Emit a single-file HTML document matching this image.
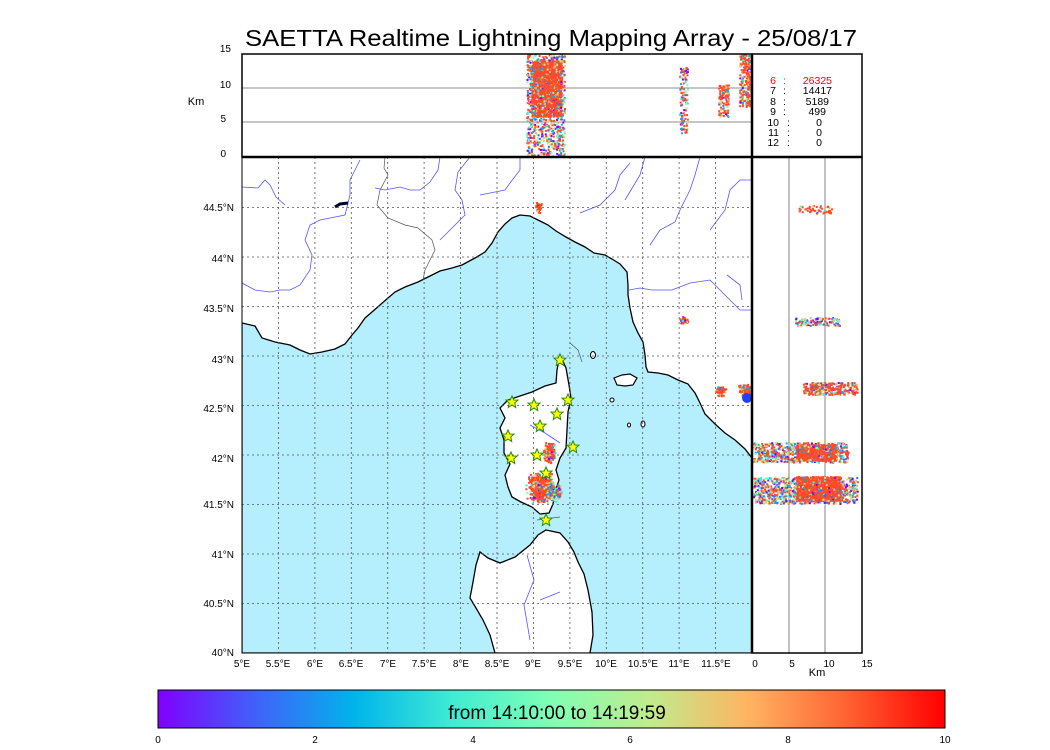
<!DOCTYPE html>
<html><head><meta charset="utf-8"><style>
html,body{margin:0;padding:0;background:#fff;}
svg{display:block;font-family:"Liberation Sans","DejaVu Sans",sans-serif;}
</style></head><body>
<svg id="s" width="1050" height="750" viewBox="0 0 1050 750" xmlns="http://www.w3.org/2000/svg">
<defs>
<linearGradient id="cb" x1="0" x2="1" y1="0" y2="0">
<stop offset="0" stop-color="#8000ff"/>
<stop offset="0.125" stop-color="#4062fa"/>
<stop offset="0.25" stop-color="#00b4eb"/>
<stop offset="0.375" stop-color="#40ecd4"/>
<stop offset="0.5" stop-color="#80ffb4"/>
<stop offset="0.625" stop-color="#c0eb8d"/>
<stop offset="0.75" stop-color="#ffb462"/>
<stop offset="0.875" stop-color="#ff6232"/>
<stop offset="1" stop-color="#ff0000"/>
</linearGradient>
<clipPath id="mapc"><rect x="242" y="157" width="510" height="496"/></clipPath>
<clipPath id="topc"><rect x="242" y="54" width="510" height="103"/></clipPath>
<clipPath id="rc"><rect x="752" y="157" width="110" height="496"/></clipPath>
<g id="star"><polygon points="0,-6 1.8,-2 6,-1.9 2.8,1 3.7,5.5 0,3 -3.7,5.5 -2.8,1 -6,-1.9 -1.8,-2" fill="#ffff00" stroke="#2a8a00" stroke-width="1"/></g>
</defs>
<text x="551" y="46" font-size="23.5" text-anchor="middle" textLength="612" lengthAdjust="spacingAndGlyphs">SAETTA Realtime Lightning Mapping Array - 25/08/17</text>

<!-- Map -->
<g clip-path="url(#mapc)">
<rect x="242" y="157" width="510" height="496" fill="#fff"/>
<path d="M242,323 L255,326 L262,338 L275,342 L290,345 L300,350 L310,354 L322,352 L335,349 L345,344 L352,335 L358,328 L365,318 L372,312 L380,305 L388,298 L395,292 L405,287 L418,282 L430,276 L440,271 L452,268 L462,265 L475,258 L485,252 L492,243 L498,232 L505,224 L512,218 L520,215 L530,216 L542,222 L548,225 L556,231 L566,237 L575,242 L585,247 L594,253 L605,255 L612,259 L620,264 L627,272 L628,285 L628,295 L630,308 L633,322 L638,333 L643,342 L645,355 L646,367 L648,372 L658,373 L668,375 L678,380 L688,384 L695,393 L700,403 L705,414 L715,424 L725,433 L735,440 L745,449 L752,458 L752,653 L242,653 Z" fill="#b5eefd" stroke="#000" stroke-width="1.3"/>
<path d="M560,355 L566,368 L569,385 L571,398 L568,412 L567,430 L566,448 L560,458 L556,470 L559,480 L555,492 L553,504 L549,513 L540,514 L532,507 L521,502 L512,497 L508,487 L505,475 L510,464 L504,453 L504,440 L500,428 L505,418 L500,408 L508,400 L520,396 L532,392 L545,386 L556,383 L557,370 Z" fill="#fff" stroke="#000" stroke-width="1.3"/>
<path d="M546,530 L560,533 L568,542 L574,552 L578,562 L584,574 L588,590 L592,612 L593,635 L590,653 L495,653 L490,635 L483,620 L476,608 L470,598 L473,582 L476,565 L480,552 L488,558 L500,563 L515,557 L530,545 L538,535 Z" fill="#fff" stroke="#000" stroke-width="1.3"/>
<path d="M614,378 L622,375 L630,374 L637,378 L633,385 L625,386 L617,385 Z" fill="#fff" stroke="#000" stroke-width="1.2"/>
<ellipse cx="593" cy="355" rx="2.5" ry="3.5" fill="#fff" stroke="#000"/>
<ellipse cx="612" cy="400" rx="2" ry="2" fill="#fff" stroke="#000"/>
<ellipse cx="629" cy="425" rx="1.5" ry="2" fill="#fff" stroke="#000"/>
<ellipse cx="643" cy="424" rx="2" ry="3" fill="#fff" stroke="#000"/>
<g fill="none" stroke="#5555ff" stroke-width="0.8">
<path d="M242,187 L258,188 L265,180 L270,185 L276,197 L285,205"/>
<path d="M360,160 L355,170 L350,180 L350,195 L345,215 L320,220 L310,225 L305,240 L312,255 L310,270 L300,285 L290,290 L280,290 L270,292 L255,290 L242,283"/>
<path d="M440,157 L438,170 L430,182 L420,190 L410,190 L400,187 L385,190 L375,188"/>
<path d="M470,157 L458,172 L455,190 L462,200 L465,215 L455,225 L440,240"/>
<path d="M520,157 L520,170 L510,183 L505,190 L480,195"/>
<path d="M630,163 L620,175 L615,190 L600,205 L580,213"/>
<path d="M645,157 L640,175 L625,200"/>
<path d="M700,157 L695,175 L690,190 L680,210 L675,222 L660,230 L650,245"/>
<path d="M752,180 L740,180 L730,190 L725,210 L710,230"/>
<path d="M629,290 L640,288 L652,290 L672,290 L690,283 L710,280 L722,292 L740,310 L752,310"/>
<path d="M727,275 L740,285 L742,300"/>
<path d="M530,425 L545,433 L560,443"/>
<path d="M527,555 L534,580 L524,605 L530,640"/>
<path d="M540,600 L560,592"/>
</g>
<g fill="none" stroke="#555" stroke-width="0.7">
<path d="M385,157 L384,168 L388,175 L380,190 L377,205 L388,218 L405,225 L418,228 L432,240 L435,250 L430,260 L425,270 L423,280"/>
</g>
<path d="M335,207 L340,204 L348,203" stroke="#000033" stroke-width="3" fill="none"/>
<path d="M570,343 L578,350 L582,362" stroke="#555" stroke-width="0.7" fill="none"/>
<path d="M537,520 L560,517" stroke="#555" stroke-width="0.7" fill="none"/>
<g stroke="#555" stroke-width="0.8" stroke-dasharray="2,3">
<line x1="278.4" y1="157" x2="278.4" y2="653"/><line x1="314.9" y1="157" x2="314.9" y2="653"/><line x1="351.3" y1="157" x2="351.3" y2="653"/><line x1="387.7" y1="157" x2="387.7" y2="653"/><line x1="424.1" y1="157" x2="424.1" y2="653"/><line x1="460.6" y1="157" x2="460.6" y2="653"/><line x1="497" y1="157" x2="497" y2="653"/><line x1="533.4" y1="157" x2="533.4" y2="653"/><line x1="569.9" y1="157" x2="569.9" y2="653"/><line x1="606.3" y1="157" x2="606.3" y2="653"/><line x1="642.7" y1="157" x2="642.7" y2="653"/><line x1="679.1" y1="157" x2="679.1" y2="653"/><line x1="715.6" y1="157" x2="715.6" y2="653"/>
<line x1="242" y1="603.5" x2="752" y2="603.5"/><line x1="242" y1="554" x2="752" y2="554"/><line x1="242" y1="504.5" x2="752" y2="504.5"/><line x1="242" y1="455" x2="752" y2="455"/><line x1="242" y1="405.5" x2="752" y2="405.5"/><line x1="242" y1="356" x2="752" y2="356"/><line x1="242" y1="306.5" x2="752" y2="306.5"/><line x1="242" y1="257" x2="752" y2="257"/><line x1="242" y1="207.5" x2="752" y2="207.5"/>
</g>
<g id="mapdots"></g>
<circle cx="747" cy="398" r="5" fill="#2040ff"/>
<use href="#star" x="560" y="360"/><use href="#star" x="512" y="402"/><use href="#star" x="534" y="405"/><use href="#star" x="568" y="400"/><use href="#star" x="557" y="414"/><use href="#star" x="540" y="426"/><use href="#star" x="508" y="436"/><use href="#star" x="573" y="447"/><use href="#star" x="537" y="455"/><use href="#star" x="511" y="458"/><use href="#star" x="546" y="473"/><use href="#star" x="546" y="520"/>
</g>
<rect x="242" y="157" width="510" height="496" fill="none" stroke="#000" stroke-width="1"/>

<g font-size="10" text-anchor="end">
<text x="234" y="656">40°N</text><text x="234" y="607">40.5°N</text><text x="234" y="558">41°N</text><text x="234" y="508">41.5°N</text><text x="234" y="462">42°N</text><text x="234" y="412">42.5°N</text><text x="234" y="363">43°N</text><text x="234" y="312">43.5°N</text><text x="234" y="262">44°N</text><text x="234" y="211">44.5°N</text>
</g>
<g font-size="10" text-anchor="middle">
<text x="242" y="667">5°E</text><text x="278" y="667">5.5°E</text><text x="315" y="667">6°E</text><text x="351" y="667">6.5°E</text><text x="388" y="667">7°E</text><text x="424" y="667">7.5°E</text><text x="461" y="667">8°E</text><text x="497" y="667">8.5°E</text><text x="533" y="667">9°E</text><text x="570" y="667">9.5°E</text><text x="606" y="667">10°E</text><text x="643" y="667">10.5°E</text><text x="679" y="667">11°E</text><text x="716" y="667">11.5°E</text>
</g>

<!-- top panel -->
<rect x="242" y="54" width="510" height="103" fill="#fff"/>
<line x1="242" y1="88" x2="752" y2="88" stroke="#666" stroke-width="0.8"/>
<line x1="242" y1="122" x2="752" y2="122" stroke="#666" stroke-width="0.8"/>
<g id="topdots" clip-path="url(#topc)"></g>
<rect x="242" y="54" width="510" height="103" fill="none" stroke="#000" stroke-width="1.5"/>
<g font-size="10" text-anchor="end"><text x="231" y="52">15</text><text x="231" y="88">10</text><text x="226" y="122">5</text><text x="226" y="157">0</text></g>
<text x="196" y="105" font-size="11" text-anchor="middle">Km</text>

<rect x="752" y="54" width="110" height="103" fill="#fff" stroke="#000" stroke-width="1.5"/>
<g font-size="10.5">
<text x="776" y="84" fill="#ff0000" text-anchor="end">6</text><text x="783" y="84" fill="#ff0000">:</text><text x="832" y="84" fill="#ff0000" text-anchor="end">26325</text>
<text x="776" y="94" text-anchor="end">7</text><text x="783" y="94">:</text><text x="832" y="94" text-anchor="end">14417</text>
<text x="776" y="105" text-anchor="end">8</text><text x="783" y="105">:</text><text x="829" y="105" text-anchor="end">5189</text>
<text x="776" y="115" text-anchor="end">9</text><text x="783" y="115">:</text><text x="826" y="115" text-anchor="end">499</text>
<text x="779" y="126" text-anchor="end">10</text><text x="787" y="126">:</text><text x="822" y="126" text-anchor="end">0</text>
<text x="779" y="136" text-anchor="end">11</text><text x="787" y="136">:</text><text x="822" y="136" text-anchor="end">0</text>
<text x="779" y="146" text-anchor="end">12</text><text x="787" y="146">:</text><text x="822" y="146" text-anchor="end">0</text>
</g>

<!-- right panel -->
<rect x="752" y="157" width="110" height="496" fill="#fff"/>
<line x1="789" y1="157" x2="789" y2="653" stroke="#666" stroke-width="0.8"/>
<line x1="825" y1="157" x2="825" y2="653" stroke="#666" stroke-width="0.8"/>
<g id="rdots" clip-path="url(#rc)"></g>
<rect x="752" y="157" width="110" height="496" fill="none" stroke="#000" stroke-width="1.5"/>
<line x1="752" y1="54" x2="752" y2="653" stroke="#000" stroke-width="2.5"/>
<line x1="242" y1="157" x2="862" y2="157" stroke="#000" stroke-width="2.5"/>
<g font-size="10" text-anchor="middle"><text x="755" y="667">0</text><text x="792" y="667">5</text><text x="829" y="667">10</text><text x="867" y="667">15</text></g>
<text x="817" y="676" font-size="11" text-anchor="middle">Km</text>

<rect x="158" y="690" width="787" height="38" fill="url(#cb)" stroke="#000" stroke-width="1"/>
<text x="557" y="719" font-size="19" text-anchor="middle">from 14:10:00 to 14:19:59</text>
<g font-size="10" text-anchor="middle"><text x="158" y="743">0</text><text x="315" y="743">2</text><text x="473" y="743">4</text><text x="630" y="743">6</text><text x="788" y="743">8</text><text x="945" y="743">10</text></g>
</svg>
<script>
(function(){
var seed=12345;function r(){seed=(seed*1103515245+12345)%2147483648;return seed/2147483648;}
function g(){return (r()+r()+r()-1.5)/1.5;}
var NS="http://www.w3.org/2000/svg";
var pal=["#8000ff","#4062fa","#00b4eb","#40ecd4","#80ffb4","#c0eb8d","#ffb462","#ff6232","#ff4a28","#ff4a28","#ff4a28","#ff4a28","#ff4a28","#ff4a28"];
function col(rw){var i=Math.floor(Math.pow(r(),rw)*pal.length);return pal[pal.length-1-i]||pal[0];}
function cl(id,cx,cy,sx,sy,n,rw,gauss){var p=document.getElementById(id);var s="";
for(var k=0;k<n;k++){var x,y;if(gauss){x=cx+g()*sx;y=cy+g()*sy;}else{x=cx+(r()*2-1)*sx;y=cy+(r()*2-1)*sy;}
s+='<rect x="'+x.toFixed(1)+'" y="'+y.toFixed(1)+'" width="2" height="2" fill="'+col(rw)+'"/>';}
p.insertAdjacentHTML("beforeend",s);}
// map
cl("mapdots",549,452,7,12,300,1.8,true);
cl("mapdots",540,487,16,17,900,1.8,true);
cl("mapdots",553,492,10,12,200,0.6,true);
cl("mapdots",538,207,5,9,40,3,true);
cl("mapdots",684,320,5,5,40,2,true);
cl("mapdots",720,390,7,6,60,3,true);
cl("mapdots",745,390,9,10,120,2,true);
// top
cl("topdots",545,105,19,52,900,0.7,false);
cl("topdots",546,88,15,28,1400,3,false);
cl("topdots",683,100,4,33,120,0.8,false);
cl("topdots",723,100,5,16,120,2,false);
cl("topdots",746,80,7,26,250,2,false);
// right
cl("rdots",805,490,52,13,900,0.7,false);
cl("rdots",818,488,22,12,1300,3,false);
cl("rdots",800,452,48,10,600,0.8,false);
cl("rdots",816,452,20,8,800,3,false);
cl("rdots",830,388,27,6,300,2,false);
cl("rdots",817,321,22,4,120,0.6,false);
cl("rdots",815,209,18,4,50,2,false);
})();
</script>
</body></html>
